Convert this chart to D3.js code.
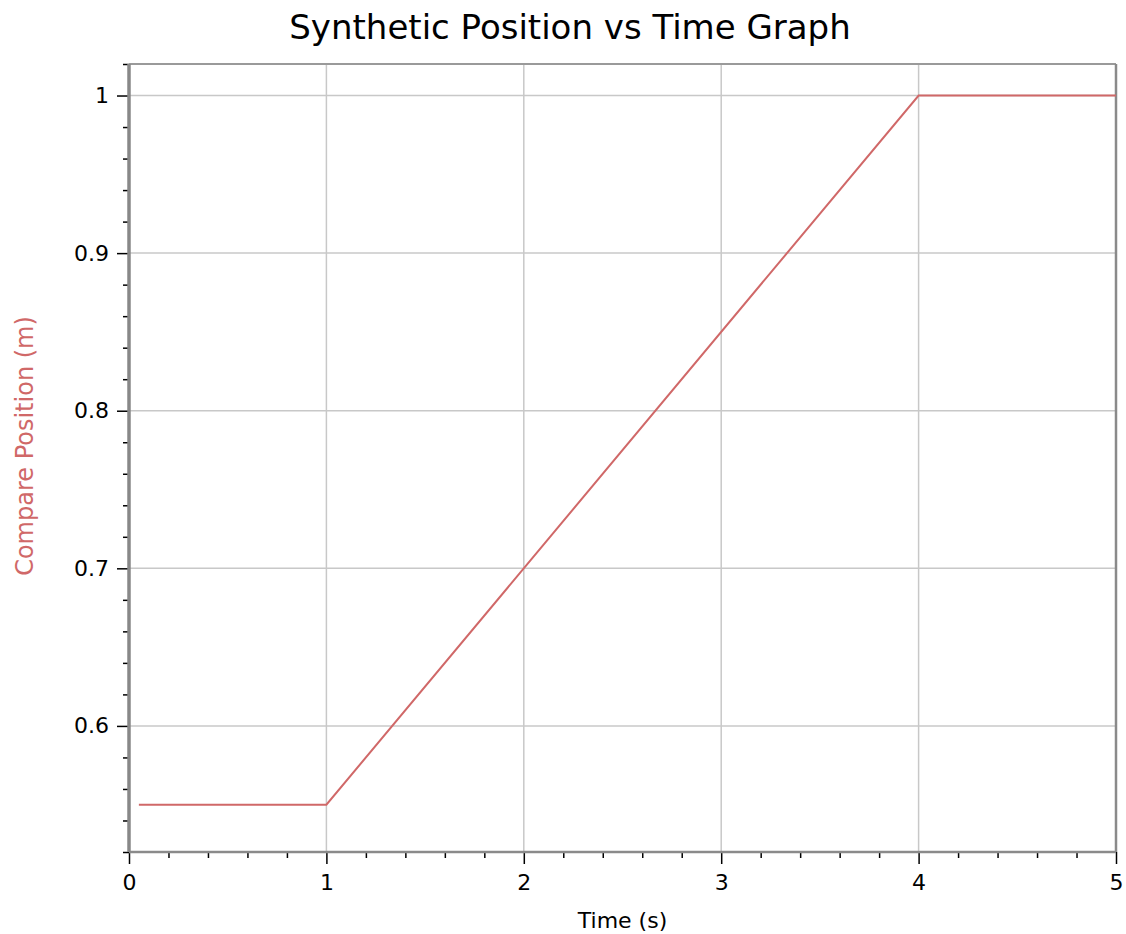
<!DOCTYPE html>
<html>
<head>
<meta charset="utf-8">
<script src="https://cdn.jsdelivr.net/npm/d3@7"></script>
<style>
  body { margin: 0; background: #fff; }
  svg text { font-family: "DejaVu Sans", sans-serif; }
</style>
</head>
<body>
<svg id="chart" width="1126" height="934"></svg>
<script>
var timeValues = [0.05, 1, 4, 5];
var positionValues = [0.55, 0.55, 1, 1];
var xTickValues = [0, 1, 2, 3, 4, 5];
var yTickValues = [0.6, 0.7, 0.8, 0.9, 1];
var yTickLabels = ["0.6", "0.7", "0.8", "0.9", "1"];

var svg = d3.select("#chart");
var margin = {top: 64, right: 10, bottom: 82, left: 129},
    width = +svg.attr("width") - margin.left - margin.right,
    height = +svg.attr("height") - margin.top - margin.bottom,
    g = svg.append("g").attr("transform", "translate(" + margin.left + "," + margin.top + ")");

var x = d3.scaleLinear().domain([0, 5]).range([0, width]);
var y = d3.scaleLinear().domain([0.52, 1.02]).range([height, 0]);

var data = timeValues.map(function(t, i) { return {t: t, v: positionValues[i]}; });

// grid
g.selectAll(".vgrid")
    .data(xTickValues.filter(function(d) { return d > 0 && d < 5; }))
    .enter().append("line")
    .attr("x1", function(d) { return x(d); })
    .attr("x2", function(d) { return x(d); })
    .attr("y1", 0).attr("y2", height)
    .attr("stroke", "#c8c8c8").attr("stroke-width", 1.5);

g.selectAll(".hgrid")
    .data(yTickValues)
    .enter().append("line")
    .attr("x1", 0).attr("x2", width)
    .attr("y1", function(d) { return y(d); })
    .attr("y2", function(d) { return y(d); })
    .attr("stroke", "#c8c8c8").attr("stroke-width", 1.5);

// frame top / right
g.append("line").attr("x1", 0).attr("x2", width).attr("y1", 0).attr("y2", 0)
    .attr("stroke", "#9a9a9a").attr("stroke-width", 2);
g.append("line").attr("x1", width).attr("x2", width).attr("y1", 0).attr("y2", height)
    .attr("stroke", "#8a8a8a").attr("stroke-width", 2.5);

// x axis
var xMinor = d3.range(0, 5.0001, 0.2).filter(function(d) { return Math.abs(d - Math.round(d)) > 1e-6; });
var xAxis = g.append("g").attr("transform", "translate(0," + height + ")");
xAxis.call(d3.axisBottom(x).tickValues(xMinor).tickSize(6).tickFormat(""))
    .select(".domain").remove();
xAxis.append("g")
    .call(d3.axisBottom(x).tickValues(xTickValues).tickSize(12).tickPadding(10).tickFormat(d3.format("d")))
    .call(function(a) { a.select(".domain").remove(); })
    .selectAll("text").attr("font-size", 22).attr("fill", "#000").attr("font-family", "DejaVu Sans");
xAxis.selectAll(".tick line").attr("stroke", "#000").attr("stroke-width", 1.5);
xAxis.append("line").attr("x1", 0).attr("x2", width).attr("y1", 0).attr("y2", 0)
    .attr("stroke", "#8a8a8a").attr("stroke-width", 2.5);

// y axis
var yMinor = d3.range(0.52, 1.0201, 0.02).filter(function(d) { return Math.abs(d * 10 - Math.round(d * 10)) > 1e-6; });
var yAxis = g.append("g");
yAxis.call(d3.axisLeft(y).tickValues(yMinor).tickSize(6).tickFormat(""))
    .select(".domain").remove();
yAxis.append("g")
    .call(d3.axisLeft(y).tickValues(yTickValues).tickSize(12).tickPadding(8)
        .tickFormat(function(d, i) { return yTickLabels[i]; }))
    .call(function(a) { a.select(".domain").remove(); })
    .selectAll("text").attr("font-size", 22).attr("fill", "#000").attr("font-family", "DejaVu Sans");
yAxis.selectAll(".tick line").attr("stroke", "#000").attr("stroke-width", 1.5);
yAxis.append("line").attr("x1", 0).attr("x2", 0).attr("y1", 0).attr("y2", height)
    .attr("stroke", "#888").attr("stroke-width", 3.5);

// series
g.append("path")
    .datum(data)
    .attr("fill", "none")
    .attr("stroke", "#d06868")
    .attr("stroke-width", 2)
    .attr("d", d3.line().x(function(d) { return x(d.t); }).y(function(d) { return y(d.v); }));

// titles
svg.append("text")
    .attr("x", 570).attr("y", 39)
    .attr("text-anchor", "middle")
    .attr("font-family", "Liberation Sans, Arial, sans-serif")
    .attr("font-size", 34)
    .attr("fill", "#000")
    .text("Synthetic Position vs Time Graph");

svg.append("text")
    .attr("x", margin.left + width / 2).attr("y", 928)
    .attr("text-anchor", "middle")
    .attr("font-size", 22)
    .attr("fill", "#000")
    .text("Time (s)");

svg.append("text")
    .attr("transform", "translate(33,446) rotate(-90)")
    .attr("text-anchor", "middle")
    .attr("font-size", 24)
    .attr("fill", "#d06868")
    .text("Compare Position (m)");
</script>
</body>
</html>
